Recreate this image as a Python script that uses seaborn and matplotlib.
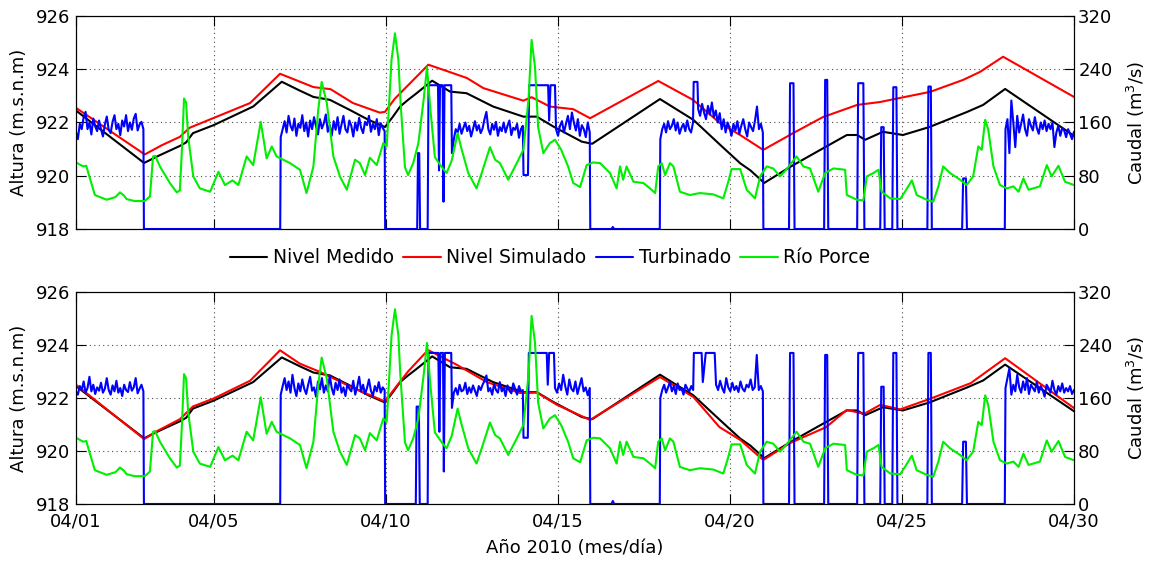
import numpy as np
import matplotlib
matplotlib.use("Agg")
import matplotlib.pyplot as plt
from matplotlib.lines import Line2D
import seaborn as sns

# ---------------------------------------------------------------------------
# Data: April 2010, time in days after 04/01 00:00
# ---------------------------------------------------------------------------
day_ticks = [1, 5, 10, 15, 20, 25, 30]
day_labels = ["04/01", "04/05", "04/10", "04/15", "04/20", "04/25", "04/30"]

# Measured reservoir level (m.s.n.m)
nivel_medido = [
    (0.00, 922.45), (1.98, 920.48), (2.40, 920.75), (3.02, 921.12), (3.20, 921.25),
    (3.40, 921.60), (4.00, 921.90), (5.15, 922.60), (5.98, 923.53), (6.50, 923.20),
    (6.90, 922.96), (7.38, 922.85), (7.96, 922.47), (8.50, 922.10), (8.98, 921.83),
    (9.20, 922.20), (9.42, 922.60), (9.65, 922.85), (9.90, 923.10), (10.35, 923.57),
    (10.87, 923.16), (11.35, 923.10), (12.12, 922.60), (13.00, 922.22), (13.39, 922.22),
    (13.87, 921.85), (14.70, 921.28), (15.00, 921.20), (16.97, 922.88), (17.94, 922.10),
    (18.72, 921.16), (19.30, 920.47), (19.60, 920.20), (20.00, 919.73), (20.75, 920.33),
    (21.53, 920.90), (22.40, 921.53), (22.70, 921.53), (22.93, 921.35), (23.45, 921.65),
    (24.03, 921.53), (24.80, 921.83), (25.90, 922.40), (26.36, 922.66), (27.00, 923.26),
    (29.00, 921.50),
]

# Simulated level, first model (upper panel)
nivel_sim_a = [
    (0.00, 922.55), (2.00, 920.80), (2.50, 921.15), (3.02, 921.46), (3.30, 921.80),
    (4.00, 922.17), (5.06, 922.73), (5.93, 923.83), (6.90, 923.33), (7.40, 923.25),
    (8.05, 922.73), (8.83, 922.37), (8.98, 922.40), (9.27, 922.90), (9.66, 923.41),
    (10.24, 924.17), (10.67, 923.98), (11.36, 923.67), (11.84, 923.29), (13.00, 922.82),
    (13.24, 922.95), (13.77, 922.60), (14.45, 922.50), (14.94, 922.16), (16.92, 923.56),
    (17.93, 922.85), (18.72, 921.97), (19.30, 921.53), (19.97, 920.97), (20.84, 921.60),
    (21.70, 922.20), (22.70, 922.66), (23.37, 922.77), (23.86, 922.90), (24.82, 923.15),
    (25.78, 923.60), (26.27, 923.90), (26.94, 924.47), (29.00, 922.96),
]

# Simulated level, second model (lower panel)
nivel_sim_b = [
    (0.00, 922.50), (1.98, 920.45), (2.40, 920.78), (3.02, 921.20), (3.40, 921.68),
    (4.00, 921.98), (5.06, 922.65), (5.93, 923.80), (6.50, 923.30), (7.10, 922.98),
    (8.05, 922.38), (8.98, 921.87), (9.20, 922.25), (9.65, 923.00), (10.23, 923.81),
    (11.07, 923.25), (11.94, 922.60), (12.90, 922.19), (13.40, 922.20), (13.98, 921.74),
    (14.94, 921.17), (16.97, 922.79), (17.94, 922.04), (18.70, 920.90), (19.30, 920.42),
    (19.97, 919.66), (20.75, 920.30), (21.80, 920.90), (22.40, 921.55), (22.90, 921.40),
    (23.37, 921.74), (23.95, 921.57), (24.80, 921.96), (26.00, 922.56), (27.00, 923.50),
    (29.00, 921.62),
]

# Porce river inflow (m3/s)
rio_porce = [
    (0.00, 100), (0.21, 94), (0.30, 95), (0.36, 84), (0.55, 51), (0.89, 44), (1.15, 48),
    (1.28, 55), (1.40, 50), (1.47, 45), (1.70, 42), (2.00, 42), (2.15, 49), (2.24, 109),
    (2.30, 110), (2.44, 94), (2.73, 69), (2.93, 55), (3.02, 58), (3.08, 120), (3.14, 196),
    (3.20, 190), (3.26, 139), (3.41, 79), (3.60, 61), (3.90, 56), (4.14, 86), (4.33, 66),
    (4.55, 73), (4.72, 66), (4.96, 109), (5.15, 96), (5.37, 161), (5.54, 106), (5.69, 124),
    (5.83, 109), (6.22, 99), (6.51, 89), (6.70, 54), (6.90, 94), (7.04, 179), (7.14, 221),
    (7.29, 189), (7.48, 109), (7.67, 79), (7.87, 59), (8.11, 104), (8.25, 99), (8.40, 81),
    (8.54, 107), (8.74, 96), (8.93, 129), (9.03, 124), (9.17, 254), (9.27, 294), (9.37, 254),
    (9.42, 200), (9.56, 93), (9.65, 81), (9.80, 99), (9.95, 129), (10.10, 193), (10.20, 243),
    (10.30, 179), (10.43, 108), (10.63, 93), (10.77, 84), (10.92, 103), (11.09, 144),
    (11.21, 119), (11.40, 84), (11.64, 61), (11.79, 84), (12.03, 123), (12.18, 104),
    (12.32, 99), (12.56, 74), (12.81, 99), (13.00, 119), (13.15, 194), (13.24, 284),
    (13.34, 243), (13.43, 153), (13.58, 114), (13.77, 129), (13.92, 134), (14.10, 119),
    (14.30, 94), (14.45, 69), (14.65, 63), (14.84, 96), (15.03, 100), (15.23, 99),
    (15.52, 84), (15.71, 61), (15.81, 94), (15.90, 74), (16.00, 94), (16.20, 71),
    (16.49, 69), (16.68, 61), (16.83, 54), (16.92, 94), (17.02, 99), (17.12, 81),
    (17.26, 99), (17.36, 94), (17.55, 56), (17.84, 51), (18.13, 54), (18.52, 52),
    (18.81, 46), (18.95, 70), (19.05, 90), (19.30, 90), (19.49, 59), (19.73, 46),
    (19.88, 79), (20.07, 94), (20.26, 91), (20.46, 79), (20.65, 90), (20.94, 109),
    (21.14, 94), (21.33, 91), (21.57, 56), (21.77, 84), (22.01, 91), (22.35, 89),
    (22.40, 51), (22.69, 44), (22.88, 43), (22.98, 79), (23.17, 84), (23.32, 89),
    (23.41, 56), (23.66, 46), (23.95, 45), (24.09, 56), (24.29, 73), (24.43, 51),
    (24.72, 44), (24.91, 41), (25.06, 64), (25.20, 94), (25.40, 84), (25.69, 74),
    (25.88, 66), (26.07, 79), (26.22, 124), (26.32, 119), (26.42, 164), (26.51, 149),
    (26.66, 94), (26.85, 66), (27.05, 61), (27.24, 64), (27.39, 56), (27.53, 76),
    (27.68, 59), (28.01, 64), (28.21, 96), (28.35, 79), (28.55, 95), (28.74, 71),
    (29.00, 66),
]

# Turbined flow, upper panel: breakpoints of stops, plateaus and short pulses
turb_a_steps = [
    (1.975, 0), (5.935, 0),
    (8.985, 0), (9.915, 0), (9.94, 114), (9.975, 114), (10.00, 0), (10.22, 0),
    (10.245, 216), (10.52, 216), (10.55, 88), (10.58, 216), (10.655, 216), (10.68, 41),
    (10.71, 216), (10.905, 216),
    (13.005, 81), (13.135, 81), (13.17, 216), (13.72, 216), (13.75, 163), (13.79, 216),
    (13.92, 216),
    (14.945, 0), (15.56, 0), (15.60, 3), (15.64, 0), (16.965, 0),
    (17.95, 221), (18.06, 221),
    (19.975, 0),
    (20.72, 0), (20.75, 219), (20.85, 219), (20.88, 0),
    (21.74, 0), (21.77, 224), (21.83, 224), (21.86, 0),
    (22.70, 0), (22.73, 219), (22.88, 219), (22.91, 0),
    (23.37, 0), (23.40, 153), (23.47, 153), (23.50, 0),
    (23.72, 0), (23.75, 213), (23.84, 213), (23.87, 0),
    (24.74, 0), (24.77, 214), (24.84, 214), (24.87, 0),
    (25.75, 0), (25.78, 76), (25.86, 76), (25.89, 0),
    (26.99, 0),
]
# Turbined flow, upper panel: readings while the units run (evenly sampled)
turb_a_run1 = [146, 135, 158, 150, 168, 176, 150, 160, 142, 166, 154, 147, 163, 150, 139,
               157, 169, 149, 144, 161, 171, 150, 158, 141, 163, 154, 171, 147, 160, 149,
               166, 173, 148, 157, 161, 150]
turb_a_run2 = [138, 150, 162, 145, 170, 155, 148, 166, 140, 158, 152, 171, 147, 160, 139,
               163, 150, 168, 154, 142, 165, 151, 159, 172, 146, 156, 140, 162, 149, 168,
               143, 157, 170, 150, 145, 163, 155, 139, 160, 148, 167, 152, 144, 161, 156,
               170, 146, 158, 150, 165, 141, 159, 152, 147]
turb_a_run3 = [114, 135, 150, 145, 158, 143, 152, 160, 147, 155, 139, 150, 162, 148, 156,
               144, 151, 165, 176, 150, 142, 158, 149, 161, 140, 153, 147, 160, 145, 155,
               163, 141, 152, 149, 158, 137, 150, 155]
turb_a_run4 = [150, 140, 155, 162, 145, 158, 170, 150, 175, 160, 148, 165, 140, 156, 150,
               138, 160, 145]
turb_a_run5 = [135, 150, 158, 145, 162, 150, 155, 165, 148, 160, 143, 152, 158, 147, 163,
               150, 145, 160]
turb_a_run6 = [180, 170, 188, 175, 165, 185, 172, 190, 168, 178, 160, 174, 150, 165, 145,
               160, 152, 140, 158, 148, 162, 143, 155, 165, 150, 139, 160, 153, 147, 163,
               184, 150, 158, 145]
turb_a_run7 = [150, 165, 114, 193, 160, 123, 170, 145, 158, 172, 150, 140, 165, 155, 148,
               168, 152, 143, 160, 150, 163, 147, 158, 150, 160, 123, 145, 155, 140, 152,
               148, 138, 150, 143, 135, 146]
turb_a_spans = [(0.00, 1.96), (5.95, 8.97), (10.925, 12.985), (13.95, 14.93),
                (16.98, 17.93), (18.08, 19.96), (27.01, 29.00)]

# Turbined flow, lower panel
turb_b_steps = [
    (1.975, 0), (5.935, 0),
    (8.985, 0), (9.875, 0), (9.90, 147), (9.965, 147), (9.99, 0), (10.22, 0),
    (10.245, 228), (10.53, 228), (10.56, 109), (10.59, 228), (10.665, 228), (10.69, 49),
    (10.72, 228), (10.905, 228),
    (13.005, 100), (13.13, 100), (13.16, 228), (13.68, 228), (13.71, 180), (13.75, 228),
    (13.89, 228),
    (14.945, 0), (15.56, 0), (15.60, 4.5), (15.64, 0), (16.965, 0),
    (17.955, 228), (18.18, 228), (18.215, 184), (18.30, 228), (18.56, 228),
    (19.975, 0),
    (20.72, 0), (20.75, 228), (20.85, 228), (20.88, 0),
    (21.74, 0), (21.77, 225), (21.83, 225), (21.86, 0),
    (22.70, 0), (22.73, 228), (22.88, 228), (22.91, 0),
    (23.37, 0), (23.40, 177), (23.47, 177), (23.50, 0),
    (23.72, 0), (23.75, 228), (23.84, 228), (23.87, 0),
    (24.74, 0), (24.77, 228), (24.84, 228), (24.87, 0),
    (25.75, 0), (25.78, 94), (25.86, 94), (25.89, 0),
    (26.99, 0),
]
turb_b_run1 = [170, 165, 178, 172, 185, 168, 175, 192, 170, 180, 166, 176, 171, 183, 168,
               174, 190, 172, 165, 179, 170, 186, 168, 175, 163, 180, 172, 169, 184, 171,
               176, 190, 167, 174, 180, 170]
turb_b_run2 = [165, 178, 190, 172, 185, 168, 195, 175, 163, 182, 170, 188, 174, 166, 180,
               192, 171, 176, 162, 185, 173, 190, 168, 179, 170, 194, 175, 165, 183, 172,
               188, 168, 176, 163, 181, 174, 170, 186, 165, 177, 192, 170, 180, 166, 175,
               188, 171, 163, 178, 170, 184, 168, 176, 172]
turb_b_run3 = [145, 168, 175, 165, 180, 170, 172, 183, 166, 176, 168, 179, 171, 163, 178,
               172, 180, 186, 194, 170, 175, 165, 181, 172, 168, 184, 170, 176, 163, 179,
               171, 167, 182, 174, 165, 178, 170, 172]
turb_b_run4 = [175, 168, 182, 172, 195, 178, 165, 188, 174, 170, 185, 166, 178, 190, 170,
               176, 164, 175]
turb_b_run5 = [160, 172, 180, 168, 176, 184, 170, 178, 166, 182, 172, 175, 165, 180, 174,
               170, 178, 172]
turb_b_run6 = [180, 172, 186, 175, 168, 190, 176, 170, 183, 172, 178, 169, 185, 174, 170,
               180, 176, 188, 172, 176, 225, 172, 178, 170]
turb_b_run7 = [175, 190, 205, 165, 180, 170, 195, 176, 168, 185, 172, 190, 166, 180, 175,
               170, 185, 168, 178, 172, 162, 180, 175, 168, 186, 172, 165, 178, 170, 182,
               168, 175, 170, 178, 166, 172]
turb_b_spans = [(0.00, 1.96), (5.95, 8.97), (10.925, 12.985), (13.92, 14.93),
                (16.98, 17.935), (18.60, 19.96), (27.01, 29.00)]

# ---------------------------------------------------------------------------
# Helpers
# ---------------------------------------------------------------------------
def unpack(pairs):
    t, v = zip(*pairs)
    return np.array(t) + 1.0, np.array(v, dtype=float)


def assemble(steps, spans, runs):
    t = [p[0] for p in steps]
    q = [p[1] for p in steps]
    for (t0, t1), vals in zip(spans, runs):
        t.extend(np.linspace(t0, t1, len(vals)))
        q.extend(vals)
    t = np.array(t) + 1.0
    q = np.array(q, dtype=float)
    order = np.argsort(t, kind="stable")
    return t[order], q[order]


C_MED, C_SIM, C_TUR, C_RIO = "#000000", "#ff0000", "#0000ff", "#00ee00"
LW = 1.5
FS = 13

sns.set_theme(style="ticks")
plt.rcParams["font.family"] = ["DejaVu Sans"]
plt.rcParams.update({
    "text.color": "black", "axes.labelcolor": "black",
    "xtick.color": "black", "ytick.color": "black",
    "axes.edgecolor": "black", "axes.linewidth": 0.8,
    "mathtext.default": "regular",
})

fig = plt.figure(figsize=(11.49, 5.65), dpi=100)
ax_top = fig.add_axes([0.0661, 0.5947, 0.8686, 0.3770])
ax_bot = fig.add_axes([0.0661, 0.1080, 0.8686, 0.3752])

panels = [
    (ax_top, nivel_sim_a, turb_a_steps, turb_a_spans,
     [turb_a_run1, turb_a_run2, turb_a_run3, turb_a_run4, turb_a_run5, turb_a_run6, turb_a_run7]),
    (ax_bot, nivel_sim_b, turb_b_steps, turb_b_spans,
     [turb_b_run1, turb_b_run2, turb_b_run3, turb_b_run4, turb_b_run5, turb_b_run6, turb_b_run7]),
]

tm, ym = unpack(nivel_medido)
tr, qr = unpack(rio_porce)

for i, (ax, sim, steps, spans, runs) in enumerate(panels):
    ts, ys = unpack(sim)
    tt, qt = assemble(steps, spans, runs)

    sns.lineplot(x=tm, y=ym, ax=ax, color=C_MED, linewidth=LW, estimator=None, sort=False)
    sns.lineplot(x=ts, y=ys, ax=ax, color=C_SIM, linewidth=LW, estimator=None, sort=False)

    ax2 = ax.twinx()
    sns.lineplot(x=tt, y=qt, ax=ax2, color=C_TUR, linewidth=LW, estimator=None, sort=False)
    sns.lineplot(x=tr, y=qr, ax=ax2, color=C_RIO, linewidth=LW, estimator=None, sort=False)

    ax.set_xlim(1, 30)
    ax.set_ylim(918, 926)
    ax.set_yticks([918, 920, 922, 924, 926])
    ax2.set_ylim(0, 320)
    ax2.set_yticks([0, 80, 160, 240, 320])
    ax.set_xticks(day_ticks)
    if i == 1:
        ax.set_xticklabels(day_labels)
        ax.set_xlabel("Año 2010 (mes/día)", fontsize=FS)
        ax.xaxis.set_label_coords(0.5, -0.165)
    else:
        ax.set_xticklabels([])
        ax.set_xlabel("")

    ax.grid(True, linestyle=(0, (1, 3)), color="0.3", linewidth=0.8)
    ax.set_axisbelow(True)
    ax.tick_params(axis="both", direction="in", length=7, width=0.8, labelsize=FS,
                   top=True, bottom=True, left=True, right=False)
    ax.tick_params(axis="x", pad=6)
    ax.tick_params(axis="y", pad=4)
    ax2.tick_params(axis="y", direction="in", length=7, width=0.8, labelsize=FS,
                    right=True, left=False, pad=3)

    ax.set_ylabel("Altura (m.s.n.m)", fontsize=FS)
    ax.yaxis.set_label_coords(-0.048, 0.5)
    ax2.set_ylabel("Caudal (m$^3$/s)", fontsize=FS)
    ax2.yaxis.set_label_coords(1.051, 0.5)

    for a in (ax, ax2):
        for s in a.spines.values():
            s.set_visible(True)
            s.set_color("black")
            s.set_linewidth(0.8)

handles = [Line2D([], [], color=c, linewidth=LW) for c in (C_MED, C_SIM, C_TUR, C_RIO)]
labels = ["Nivel Medido", "Nivel Simulado", "Turbinado", "Río Porce"]
fig.legend(handles, labels, loc="center", bbox_to_anchor=(0.4787, 0.5434), ncol=4,
           frameon=False, fontsize=13.5, handlelength=2.0, handletextpad=0.3,
           columnspacing=0.5, borderaxespad=0)

fig.savefig("out.png", dpi=100)
